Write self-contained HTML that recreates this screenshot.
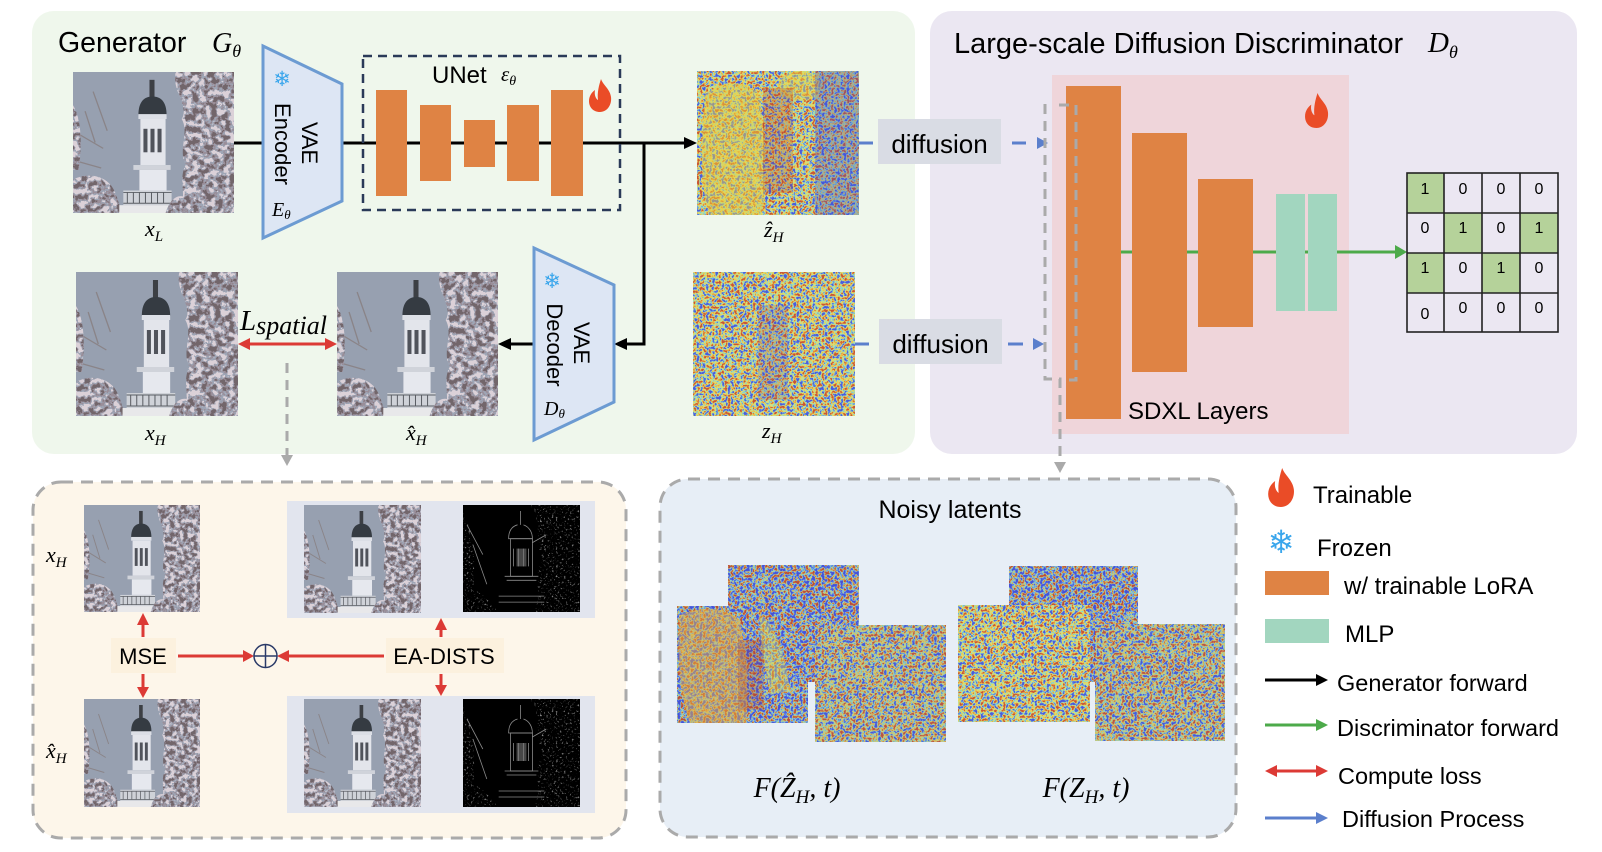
<!DOCTYPE html>
<html><head><meta charset="utf-8">
<style>
html,body{margin:0;padding:0;background:#fff;}
svg{display:block;}
text{font-family:"Liberation Sans",Arial,sans-serif;fill:#000;}
.m{font-family:"Liberation Serif","DejaVu Serif",serif;font-style:italic;}
.sf{font-family:"DejaVu Sans",sans-serif;fill:#3aa6ec;}
</style></head><body>
<svg width="1602" height="852" viewBox="0 0 1602 852" xmlns="http://www.w3.org/2000/svg">
<defs>
 <filter id="jet" x="0" y="0" width="1" height="1" color-interpolation-filters="sRGB">
  <feTurbulence type="fractalNoise" baseFrequency="0.32" numOctaves="2" seed="2"/>
  <feColorMatrix type="matrix" values="2.7 0 0 0 -0.85  2.7 0 0 0 -0.85  2.7 0 0 0 -0.85  0 0 0 0 1"/>
  <feComponentTransfer>
   <feFuncR type="table" tableValues="0.3 0.4 0.52 0.84 0.92 0.9 0.78"/>
   <feFuncG type="table" tableValues="0.36 0.52 0.86 0.88 0.82 0.58 0.34"/>
   <feFuncB type="table" tableValues="0.86 0.88 0.82 0.5 0.32 0.26 0.22"/>
  </feComponentTransfer>
 </filter>
 <filter id="jetb" x="0" y="0" width="1" height="1" color-interpolation-filters="sRGB">
  <feTurbulence type="fractalNoise" baseFrequency="0.32" numOctaves="2" seed="9"/>
  <feColorMatrix type="matrix" values="2.7 0 0 0 -0.85  2.7 0 0 0 -0.85  2.7 0 0 0 -0.85  0 0 0 0 1"/>
  <feComponentTransfer>
   <feFuncR type="table" tableValues="0.28 0.3 0.38 0.52 0.85 0.82 0.72"/>
   <feFuncG type="table" tableValues="0.32 0.38 0.5 0.84 0.78 0.48 0.3"/>
   <feFuncB type="table" tableValues="0.84 0.88 0.9 0.84 0.38 0.27 0.24"/>
  </feComponentTransfer>
 </filter>
 <filter id="mot" color-interpolation-filters="sRGB">
  <feTurbulence type="fractalNoise" baseFrequency="0.16" numOctaves="3" seed="5"/>
  <feColorMatrix type="matrix" values="3 0 0 0 -1  3 0 0 0 -1  3 0 0 0 -1  0 0 0 0 1"/>
  <feComponentTransfer>
   <feFuncR type="discrete" tableValues="0.45 0.6 0.62 0.86"/>
   <feFuncG type="discrete" tableValues="0.4 0.56 0.65 0.82"/>
   <feFuncB type="discrete" tableValues="0.42 0.6 0.71 0.85"/>
  </feComponentTransfer>
  <feComposite in2="SourceGraphic" operator="in"/>
 </filter>
 <filter id="edg" color-interpolation-filters="sRGB">
  <feTurbulence type="fractalNoise" baseFrequency="0.5" numOctaves="2" seed="7"/>
  <feColorMatrix type="matrix" values="0 0 0 0 0.55  0 0 0 0 0.55  0 0 0 0 0.55  5 0 0 0 -3.0"/>
  <feComposite in2="SourceGraphic" operator="in"/>
 </filter>
 <symbol id="ph" viewBox="0 0 160 144" preserveAspectRatio="none">
  <rect width="160" height="144" fill="#97a0b0"/>
  <path d="M0,60 L30,78 M0,90 L28,98 M12,40 L22,72 M20,20 L34,60" stroke="#8a8488" stroke-width="1.3" fill="none"/>
  <path d="M100,0 H160 V144 H106 C114,125 104,110 112,95 C104,80 116,62 108,48 C116,35 98,20 102,0 Z" filter="url(#mot)"/>
  <path d="M0,110 C15,102 30,106 38,116 C45,126 44,134 50,144 H0 Z" filter="url(#mot)"/>
  <path d="M0,34 C6,44 10,62 6,100 L0,100 Z" filter="url(#mot)"/>
  <rect x="76" y="8" width="5" height="18" fill="#3c3f44"/>
  <path d="M65,44 C65,30 71,25 79,25 C87,25 93,30 93,44 Z" fill="#353b42"/>
  <rect x="65" y="43" width="28" height="5" fill="#dcdfe6"/>
  <rect x="67" y="48" width="25" height="47" fill="#e3e5eb"/>
  <rect x="70" y="58" width="4" height="24" fill="#50535b"/>
  <rect x="77" y="58" width="4" height="24" fill="#50535b"/>
  <rect x="84" y="58" width="4" height="24" fill="#50535b"/>
  <rect x="60" y="95" width="37" height="5" fill="#d0d3da"/>
  <rect x="66" y="100" width="27" height="21" fill="#e6e8ee"/>
  <rect x="50" y="121" width="48" height="15" fill="#cfd2d8"/>
  <path d="M50,123 H98 M50,134 H98 M54,123 V134 M60,123 V134 M66,123 V134 M72,123 V134 M78,123 V134 M84,123 V134 M90,123 V134" stroke="#5a5d63" stroke-width="1" fill="none"/>
  <rect x="46" y="136" width="60" height="8" fill="#e8e8ea"/>
  <path d="M92,144 C96,130 104,124 112,128 L120,144 Z" filter="url(#mot)"/>
 </symbol>
 <symbol id="ed" viewBox="0 0 118 108" preserveAspectRatio="none">
  <rect width="118" height="108" fill="#000"/>
  <path d="M66,0 H118 V108 H72 C80,90 70,70 80,55 C70,40 82,25 68,0 Z" filter="url(#edg)"/>
  <path d="M0,8 C12,30 14,60 8,108 H0 Z M0,78 C14,84 26,96 36,108 H0Z" filter="url(#edg)"/>
  <g stroke="#8a8a8a" stroke-width="0.8" fill="none">
   <path d="M58,6 V20 M55,20 C48,22 46,28 46,34 H70 C70,28 67,22 61,20"/>
   <rect x="48" y="34" width="22" height="38"/>
   <path d="M51,44 V62 M56,44 V62 M61,44 V62 M66,44 V62 M42,72 H76 M44,76 H74 M36,92 H82 M36,98 H82 M70,38 L84,30 M4,20 L20,50 M10,40 L24,80"/>
  </g>
  <rect x="54" y="44" width="10" height="18" fill="#777" opacity="0.6"/>
 </symbol>
 <symbol id="fl" viewBox="0 0 24 33" preserveAspectRatio="none">
  <path d="M13,0 C15,6 22,10 23,18 C24,26 19,33 12,33 C5,33 1,28 1,22 C1,17 4,13 7,11 C6,16 8,20 10,21 C9,14 11,6 13,0 Z" fill="#ea4c27"/>
 </symbol>
</defs>

<!-- panels -->
<rect x="32" y="11" width="883" height="443" rx="22" fill="#eff7ec"/>
<rect x="930" y="11" width="647" height="443" rx="22" fill="#ebe7f2"/>

<!-- Generator -->
<text x="58" y="52" font-size="28.5">Generator</text>
<text class="m" x="212" y="52" font-size="28">G<tspan font-size="18" dy="5">θ</tspan></text>

<use href="#ph" x="73" y="72" width="161" height="141"/>
<text class="m" x="145" y="236" font-size="22">x<tspan font-size="15" dy="5">L</tspan></text>

<!-- generator forward lines -->
<g stroke="#000" stroke-width="3" fill="none">
 <path d="M234,143 H263"/>
 <path d="M342,143 H686"/>
 <path d="M644,143 V344 H627"/>
 <path d="M534,344 H510"/>
</g>
<polygon points="684,137 697,143 684,149" fill="#000"/>
<polygon points="627,338 614,344 627,350" fill="#000"/>
<polygon points="511,338 498,344 511,350" fill="#000"/>

<!-- VAE encoder -->
<polygon points="263,46 342,84 342,201 263,238" fill="#dde6f4" stroke="#6c9bd2" stroke-width="3"/>
<text class="sf" x="282" y="86" font-size="21" text-anchor="middle">❄</text>
<text transform="translate(302,143) rotate(90)" text-anchor="middle" font-size="22">VAE</text>
<text transform="translate(275,144) rotate(90)" text-anchor="middle" font-size="22">Encoder</text>
<text class="m" x="272" y="216" font-size="20">E<tspan font-size="13" dy="3">θ</tspan></text>

<!-- UNet -->
<rect x="363" y="56" width="257" height="154" fill="none" stroke="#2a3a58" stroke-width="2.5" stroke-dasharray="9 6"/>
<text x="432" y="83" font-size="24">UNet</text>
<text class="m" x="501" y="81" font-size="21">ε<tspan font-size="14" dy="4">θ</tspan></text>
<g fill="#df8344">
 <rect x="376" y="90" width="31" height="106"/>
 <rect x="420" y="105" width="31" height="76"/>
 <rect x="464" y="120" width="31" height="47"/>
 <rect x="507" y="105" width="32" height="76"/>
 <rect x="551" y="90" width="32" height="106"/>
</g>
<use href="#fl" x="588" y="79" width="24" height="33"/>

<!-- latents -->
<rect x="697" y="71" width="162" height="144" filter="url(#jet)"/>
<path d="M705,95 C720,80 745,78 760,95 L765,150 C760,180 770,200 760,215 L710,215 C700,190 700,150 705,95 Z" fill="#e8d040" opacity="0.5"/>
<ellipse cx="800" cy="86" rx="22" ry="15" fill="#e8da48" opacity="0.45"/>
<rect x="815" y="71" width="44" height="144" fill="#3a4ad0" opacity="0.3"/>
<rect x="763" y="88" width="30" height="105" fill="#a84838" opacity="0.28"/>
<text class="m" x="764" y="237" font-size="22">ẑ<tspan font-size="15" dy="5">H</tspan></text>

<rect x="693" y="272" width="162" height="144" filter="url(#jet)"/>
<rect x="758" y="305" width="30" height="95" fill="#6040a0" opacity="0.2"/>
<text class="m" x="762" y="438" font-size="22">z<tspan font-size="15" dy="5">H</tspan></text>

<!-- decoder -->
<polygon points="534,248 614,285 614,402 534,440" fill="#dde6f4" stroke="#6c9bd2" stroke-width="3"/>
<text class="sf" x="552" y="288" font-size="21" text-anchor="middle">❄</text>
<text transform="translate(574,343) rotate(90)" text-anchor="middle" font-size="22">VAE</text>
<text transform="translate(547,345) rotate(90)" text-anchor="middle" font-size="22">Decoder</text>
<text class="m" x="544" y="415" font-size="20">D<tspan font-size="13" dy="3">θ</tspan></text>

<!-- bottom images -->
<use href="#ph" x="76" y="272" width="162" height="144"/>
<use href="#ph" x="337" y="272" width="161" height="144"/>
<text class="m" x="145" y="440" font-size="22">x<tspan font-size="15" dy="5">H</tspan></text>
<text class="m" x="406" y="440" font-size="22">x̂<tspan font-size="15" dy="5">H</tspan></text>

<!-- L spatial -->
<text class="m" x="240" y="330" font-size="29">L<tspan font-size="26" dy="4">spatial</tspan></text>
<path d="M248,344 H327" stroke="#dc3a35" stroke-width="3"/>
<polygon points="238,344 250,338 250,350" fill="#dc3a35"/>
<polygon points="337,344 325,338 325,350" fill="#dc3a35"/>
<path d="M287,363 V455" stroke="#aaa" stroke-width="3" stroke-dasharray="10 7"/>
<polygon points="281,455 293,455 287,466" fill="#aaa"/>

<!-- diffusion boxes -->
<rect x="878" y="119" width="123" height="45" fill="#d9dce4"/>
<text x="939.5" y="153" font-size="26" text-anchor="middle">diffusion</text>
<rect x="879" y="319" width="123" height="45" fill="#d9dce4"/>
<text x="940.5" y="353" font-size="26" text-anchor="middle">diffusion</text>
<g stroke="#5b7fcc" stroke-width="3">
 <path d="M859,143 H873 M1012,143 H1026 M855,344 H869 M1008,344 H1023"/>
</g>
<polygon points="1037,137 1048,143 1037,149" fill="#5b7fcc"/>
<polygon points="1033,338 1044,344 1033,350" fill="#5b7fcc"/>

<!-- Discriminator -->
<text x="954" y="53" font-size="29">Large-scale Diffusion Discriminator</text>
<text class="m" x="1428" y="52" font-size="29">D<tspan font-size="18" dy="6">θ</tspan></text>
<rect x="1052" y="75" width="297" height="359" fill="#efd5da"/>
<path d="M1100,252 H1396" stroke="#4caa4a" stroke-width="3"/>
<polygon points="1395,245 1407,252 1395,259" fill="#4caa4a"/>
<g fill="#df8344">
 <rect x="1066" y="86" width="55" height="333"/>
 <rect x="1132" y="133" width="55" height="239"/>
 <rect x="1198" y="179" width="55" height="148"/>
</g>
<g fill="#a2d6bf">
 <rect x="1276" y="194" width="29" height="117"/>
 <rect x="1308" y="194" width="29" height="117"/>
</g>
<use href="#fl" x="1304" y="93" width="25" height="35"/>
<text x="1128" y="419" font-size="24">SDXL Layers</text>
<g stroke="#aaa" stroke-width="3" fill="none" stroke-dasharray="10 7">
 <path d="M1045,104 V379 H1060 V462"/>
 <path d="M1059,105 H1076 V380 H1068"/>
</g>
<polygon points="1054,462 1066,462 1060,473" fill="#aaa"/>

<!-- grid -->
<g fill="#b5d29a">
 <rect x="1407" y="173" width="37" height="40"/>
 <rect x="1444" y="213" width="38" height="40"/>
 <rect x="1520" y="213" width="38" height="40"/>
 <rect x="1407" y="253" width="37" height="40"/>
 <rect x="1482" y="253" width="38" height="40"/>
</g>
<g stroke="#222" stroke-width="1.6" fill="none">
 <rect x="1407" y="173" width="151" height="159"/>
 <path d="M1444,173 V332 M1482,173 V332 M1520,173 V332 M1407,213 H1558 M1407,253 H1558 M1407,293 H1558"/>
</g>
<g font-size="16" text-anchor="middle">
 <text x="1425" y="194">1</text><text x="1463" y="194">0</text><text x="1501" y="194">0</text><text x="1539" y="194">0</text>
 <text x="1425" y="233">0</text><text x="1463" y="233">1</text><text x="1501" y="233">0</text><text x="1539" y="233">1</text>
 <text x="1425" y="273">1</text><text x="1463" y="273">0</text><text x="1501" y="273">1</text><text x="1539" y="273">0</text>
 <text x="1425" y="319">0</text><text x="1463" y="313">0</text><text x="1501" y="313">0</text><text x="1539" y="313">0</text>
</g>

<!-- loss box -->
<rect x="33" y="482" width="593" height="356" rx="28" fill="#fdf6ea" stroke="#aaa" stroke-width="3" stroke-dasharray="12 8"/>
<use href="#ph" x="84" y="505" width="116" height="107"/>
<use href="#ph" x="84" y="699" width="116" height="108"/>
<text class="m" x="46" y="562" font-size="22">x<tspan font-size="15" dy="5">H</tspan></text>
<text class="m" x="46" y="758" font-size="22">x̂<tspan font-size="15" dy="5">H</tspan></text>
<rect x="287" y="501" width="308" height="117" fill="#e2e5ee"/>
<rect x="287" y="696" width="308" height="117" fill="#e2e5ee"/>
<use href="#ph" x="304" y="505" width="117" height="108"/>
<use href="#ed" x="463" y="505" width="117" height="107"/>
<use href="#ph" x="304" y="699" width="117" height="108"/>
<use href="#ed" x="463" y="699" width="117" height="108"/>
<rect x="111" y="638" width="65" height="35" fill="#fcf1de"/>
<rect x="386" y="638" width="118" height="35" fill="#fcf1de"/>
<text x="143" y="664" font-size="22" text-anchor="middle">MSE</text>
<text x="444" y="664" font-size="22" text-anchor="middle">EA-DISTS</text>
<g stroke="#dc3a35" stroke-width="3">
 <path d="M178,656 H244 M384,656 H288 M143,637 V624 M143,674 V688 M441,637 V629 M441,674 V686"/>
</g>
<g fill="#dc3a35">
 <polygon points="243,650 254,656 243,662"/>
 <polygon points="289,650 277,656 289,662"/>
 <polygon points="137,625 149,625 143,613"/>
 <polygon points="137,687 149,687 143,698"/>
 <polygon points="435,630 447,630 441,618"/>
 <polygon points="435,685 447,685 441,696"/>
</g>
<circle cx="265.5" cy="656" r="11.5" fill="none" stroke="#2a3a68" stroke-width="1.5"/>
<path d="M254,656 H277 M265.5,644.5 V667.5" stroke="#2a3a68" stroke-width="1.5"/>

<!-- noisy latents -->
<rect x="660" y="479" width="576" height="358" rx="28" fill="#e7eef6" stroke="#aaa" stroke-width="3" stroke-dasharray="12 8"/>
<text x="950" y="518" font-size="25" text-anchor="middle">Noisy latents</text>

<rect x="728" y="565" width="131" height="117" filter="url(#jetb)"/>
<rect x="677" y="606" width="131" height="117" filter="url(#jetb)"/>
<path d="M680,615 C700,606 725,606 740,620 L748,670 C745,690 750,710 745,723 L690,723 C680,700 676,650 680,615 Z" fill="#e8b040" opacity="0.5"/>
<path d="M760,615 C775,625 785,650 790,690 L770,695 C765,665 758,640 760,615 Z" fill="#e8e050" opacity="0.4"/>
<rect x="738" y="640" width="26" height="70" fill="#a04040" opacity="0.25"/>
<rect x="815" y="625" width="131" height="117" filter="url(#jet)"/>
<rect x="815" y="625" width="131" height="117" fill="#4050c8" opacity="0.12"/>

<rect x="1009" y="566" width="129" height="116" filter="url(#jetb)"/>
<rect x="958" y="605" width="132" height="117" filter="url(#jet)"/>
<rect x="1095" y="624" width="130" height="117" filter="url(#jet)"/>
<rect x="1095" y="624" width="130" height="117" fill="#4050c8" opacity="0.12"/>

<text class="m" x="797" y="797" font-size="28" text-anchor="middle">F(Ẑ<tspan font-size="19" dy="6">H</tspan><tspan dy="-6">, t)</tspan></text>
<text class="m" x="1086" y="797" font-size="28" text-anchor="middle">F(Z<tspan font-size="19" dy="6">H</tspan><tspan dy="-6">, t)</tspan></text>

<!-- legend -->
<use href="#fl" x="1267" y="468" width="28" height="39"/>
<text x="1313" y="503" font-size="24">Trainable</text>
<text class="sf" x="1281" y="553" font-size="32" text-anchor="middle">❄</text>
<text x="1317" y="556" font-size="24">Frozen</text>
<rect x="1265" y="571" width="64" height="24" fill="#df8344"/>
<text x="1344" y="594" font-size="24">w/ trainable LoRA</text>
<rect x="1265" y="619" width="64" height="24" fill="#a2d6bf"/>
<text x="1345" y="642" font-size="24">MLP</text>
<path d="M1265,680 H1318" stroke="#000" stroke-width="3"/>
<polygon points="1316,674 1328,680 1316,686" fill="#000"/>
<text x="1337" y="691" font-size="23.5">Generator forward</text>
<path d="M1265,725 H1318" stroke="#4caa4a" stroke-width="3"/>
<polygon points="1316,719 1328,725 1316,731" fill="#4caa4a"/>
<text x="1337" y="736" font-size="23.5">Discriminator forward</text>
<path d="M1274,771 H1319" stroke="#dc3a35" stroke-width="3"/>
<polygon points="1265,771 1277,765 1277,777" fill="#dc3a35"/>
<polygon points="1328,771 1316,765 1316,777" fill="#dc3a35"/>
<text x="1338" y="784" font-size="23.5">Compute loss</text>
<path d="M1265,818 H1318" stroke="#5b7fcc" stroke-width="3"/>
<polygon points="1316,812 1328,818 1316,824" fill="#5b7fcc"/>
<text x="1342" y="827" font-size="23.5">Diffusion Process</text>
</svg>
</body></html>
